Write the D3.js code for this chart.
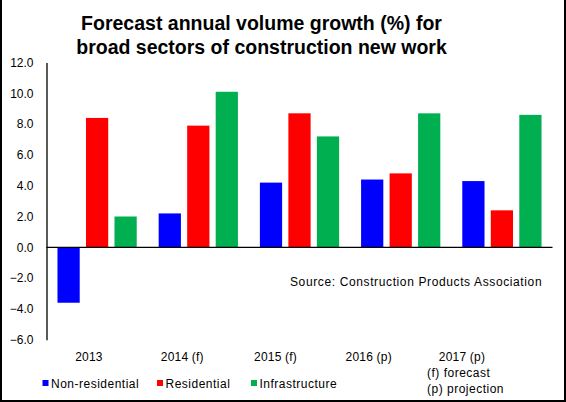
<!DOCTYPE html>
<html>
<head>
<meta charset="utf-8">
<script src="https://cdn.jsdelivr.net/npm/d3@7"></script>
<style>
  html, body { margin: 0; padding: 0; background: #fff; }
  svg { display: block; font-family: "Liberation Sans", Arial, sans-serif; }
</style>
</head>
<body>
<svg id="chart" width="566" height="402"></svg>
<script>
const categories = ["2013", "2014 (f)", "2015 (f)", "2016 (p)", "2017 (p)"];
const seriesNames = ["Non-residential", "Residential", "Infrastructure"];
const nonResidential = [-3.6, 2.2, 4.2, 4.4, 4.3];
const residential = [8.4, 7.9, 8.7, 4.8, 2.4];
const infrastructure = [2.0, 10.1, 7.2, 8.7, 8.6];
const seriesColors = ["#0000FF", "#FF0000", "#00B050"];
const yTicks = [-6, -4, -2, 0, 2, 4, 6, 8, 10, 12];
const titleLines = ["Forecast annual volume growth (%) for", "broad sectors of construction new work"];
const sourceText = "Source: Construction Products Association";
const footnotes = ["(f) forecast", "(p) projection"];

const seriesValues = [nonResidential, residential, infrastructure];

const svg = d3.select("#chart");
const W = 566, H = 402;

// frame (left, right, bottom)
svg.append("path")
  .attr("d", `M1,0 V${H - 1} H${W - 1} V0`)
  .attr("fill", "none").attr("stroke", "#000").attr("stroke-width", 2);

// title
svg.append("g").selectAll("text").data(titleLines).join("text")
  .attr("x", 261.5).attr("y", (d, i) => 30 + i * 24)
  .attr("text-anchor", "middle")
  .attr("font-size", 19.5).attr("font-weight", "bold")
  .text(d => d);

const plotLeft = 46.5, plotRight = 552.5;
const y = d3.scaleLinear().domain([-6, 12]).range([339.7, 62.5]);
const x0 = d3.scaleBand().domain(categories).range([plotLeft, plotRight])
  .paddingInner(0.217).paddingOuter(0.1085);
const x1 = d3.scaleBand().domain(seriesNames).range([0, x0.bandwidth()]).paddingInner(0.22);

// bars
const groups = svg.append("g").selectAll("g").data(categories).join("g")
  .attr("transform", d => `translate(${x0(d)},0)`);
groups.selectAll("rect")
  .data((c, ci) => seriesNames.map((s, si) => ({ s, v: seriesValues[si][ci], color: seriesColors[si] })))
  .join("rect")
  .attr("x", d => x1(d.s))
  .attr("width", x1.bandwidth())
  .attr("y", d => y(Math.max(0, d.v)))
  .attr("height", d => Math.abs(y(d.v) - y(0)))
  .attr("fill", d => d.color);

// y axis
const yAxis = d3.axisLeft(y).tickValues(yTicks).tickFormat(d3.format(".1f")).tickSize(0).tickPadding(13);
const yg = svg.append("g").attr("transform", `translate(${plotLeft},0)`).call(yAxis);
yg.select(".domain").attr("stroke", "#000").attr("stroke-width", 1.3);
yg.selectAll("text").attr("font-size", 12).attr("font-family", "Liberation Sans, Arial, sans-serif").attr("fill", "#000");

// zero line
svg.append("line")
  .attr("x1", plotLeft).attr("x2", plotRight)
  .attr("y1", y(0)).attr("y2", y(0))
  .attr("stroke", "#000").attr("stroke-width", 1.3);

// category labels (Excel-like offset positions)
const xl = d3.scalePoint().domain(categories).range([89, 462]);
svg.append("g").selectAll("text").data(categories).join("text")
  .attr("x", d => xl(d)).attr("y", 361)
  .attr("text-anchor", "middle").attr("font-size", 12).attr("letter-spacing", 0.2)
  .text(d => d);

// source
svg.append("text").attr("x", 290).attr("y", 286).attr("font-size", 12)
  .attr("letter-spacing", 0.62).text(sourceText);

// legend
const legendX = [42.5, 157, 251];
const lg = svg.append("g").selectAll("g").data(seriesNames).join("g")
  .attr("transform", (d, i) => `translate(${legendX[i]},380)`);
lg.append("rect").attr("width", 6).attr("height", 6).attr("fill", (d, i) => seriesColors[i]);
lg.append("text").attr("x", 8.5).attr("y", 7.5).attr("font-size", 12)
  .attr("letter-spacing", 0.5).text(d => d);

// footnotes
svg.append("g").selectAll("text").data(footnotes).join("text")
  .attr("x", 427).attr("y", (d, i) => 377 + i * 15.5)
  .attr("font-size", 12).attr("letter-spacing", 0.5).text(d => d);
</script>
</body>
</html>
